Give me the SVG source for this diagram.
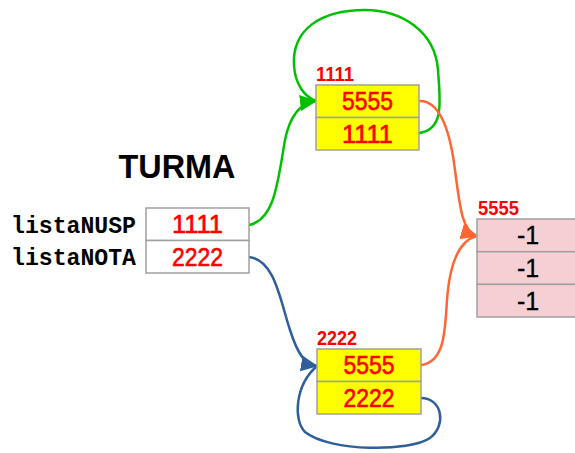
<svg xmlns="http://www.w3.org/2000/svg" width="575" height="453" viewBox="0 0 575 453">
<style>
.cell{stroke:#a0a0a0;stroke-width:1.5}
.y{fill:#ffff00}
.p{fill:#f5cfd3}
.w{fill:#ffffff}
.v{font-family:"Liberation Sans",Arial,sans-serif;font-size:25px;fill:#ff0000;stroke:#ff0000;stroke-width:0.6;text-anchor:middle}
.k{font-family:"Liberation Sans",Arial,sans-serif;font-size:25px;fill:#000;stroke:#000;stroke-width:0.3;text-anchor:middle}
.lab{font-family:"Liberation Sans",Arial,sans-serif;font-size:20px;font-weight:bold;fill:#ff0000}
.mono{font-family:"Liberation Mono","Courier New",monospace;font-size:23px;font-weight:bold;fill:#000}
.c{fill:none;stroke-width:2.5}
</style>
<defs>
<marker id="ag" markerUnits="userSpaceOnUse" markerWidth="18" markerHeight="18" refX="16" refY="9" orient="auto"><path d="M0,1 L17,9 L0,17 Z" fill="#00c000"/></marker>
<marker id="ao" markerUnits="userSpaceOnUse" markerWidth="18" markerHeight="18" refX="16" refY="9" orient="auto"><path d="M0,1 L17,9 L0,17 Z" fill="#ff6633"/></marker>
<marker id="ab" markerUnits="userSpaceOnUse" markerWidth="18" markerHeight="18" refX="16" refY="9" orient="auto"><path d="M0,1 L17,9 L0,17 Z" fill="#2e5f9b"/></marker>
</defs>
<g id="connectors">
<path class="c" stroke="#00c000" d="M249,225 C275,220 278,180 285,140 C290,115 300,103 316,101" marker-end="url(#ag)"/>
<path class="c" stroke="#00c000" d="M419,133 C445,130 440,100 438,70 C435,30 400,10 365,10 C320,10 292,30 294,65 C295,85 305,97 316,101"/>
<path class="c" stroke="#ff6633" d="M419,101 C440,100 450,130 455,170 C460,210 463,232 477,236" marker-end="url(#ao)"/>
<path class="c" stroke="#ff6633" d="M421,365 C445,362 445,330 447,300 C450,260 460,240 477,236"/>
<path class="c" stroke="#2e5f9b" d="M249,257 C275,260 280,300 290,330 C298,355 305,364 317,366" marker-end="url(#ab)"/>
<path class="c" stroke="#2e5f9b" d="M421,398 C442,398 447,425 430,438 C410,452 330,452 305,432 C293,420 295,385 317,366"/>
</g>
<g id="turma">
<text x="177" y="178" font-family="Liberation Sans,Arial,sans-serif" font-size="33" font-weight="bold" text-anchor="middle" fill="#000" textLength="117" lengthAdjust="spacingAndGlyphs">TURMA</text>
<text class="mono" x="11" y="233" textLength="125" lengthAdjust="spacingAndGlyphs">listaNUSP</text>
<text class="mono" x="11" y="265" textLength="125" lengthAdjust="spacingAndGlyphs">listaNOTA</text>
<rect class="cell w" x="146" y="208" width="103" height="32.5"/>
<rect class="cell w" x="146" y="240.5" width="103" height="32.5"/>
<text class="v" x="197.5" y="233" textLength="51" lengthAdjust="spacingAndGlyphs">1111</text>
<text class="v" x="197.5" y="265.5" textLength="51" lengthAdjust="spacingAndGlyphs">2222</text>
</g>
<g id="node1111">
<text class="lab" x="316" y="81" textLength="38" lengthAdjust="spacingAndGlyphs">1111</text>
<rect class="cell y" x="316" y="85" width="103" height="32.5"/>
<rect class="cell y" x="316" y="117.5" width="103" height="32.5"/>
<text class="v" x="367.5" y="110" textLength="51" lengthAdjust="spacingAndGlyphs">5555</text>
<text class="v" x="367.5" y="142.5" textLength="51" lengthAdjust="spacingAndGlyphs">1111</text>
</g>
<g id="node2222">
<text class="lab" x="317" y="345" textLength="40" lengthAdjust="spacingAndGlyphs">2222</text>
<rect class="cell y" x="317" y="349" width="104" height="32.5"/>
<rect class="cell y" x="317" y="381.5" width="104" height="32.5"/>
<text class="v" x="369" y="374" textLength="51" lengthAdjust="spacingAndGlyphs">5555</text>
<text class="v" x="369" y="406.5" textLength="51" lengthAdjust="spacingAndGlyphs">2222</text>
</g>
<g id="node5555">
<text class="lab" x="478" y="215" textLength="41" lengthAdjust="spacingAndGlyphs">5555</text>
<rect class="cell p" x="477" y="219" width="110" height="32.7"/>
<rect class="cell p" x="477" y="251.7" width="110" height="32.7"/>
<rect class="cell p" x="477" y="284.4" width="110" height="32.6"/>
<text class="k" x="528" y="244">-1</text>
<text class="k" x="528" y="276.5">-1</text>
<text class="k" x="528" y="309.5">-1</text>
</g>
</svg>
